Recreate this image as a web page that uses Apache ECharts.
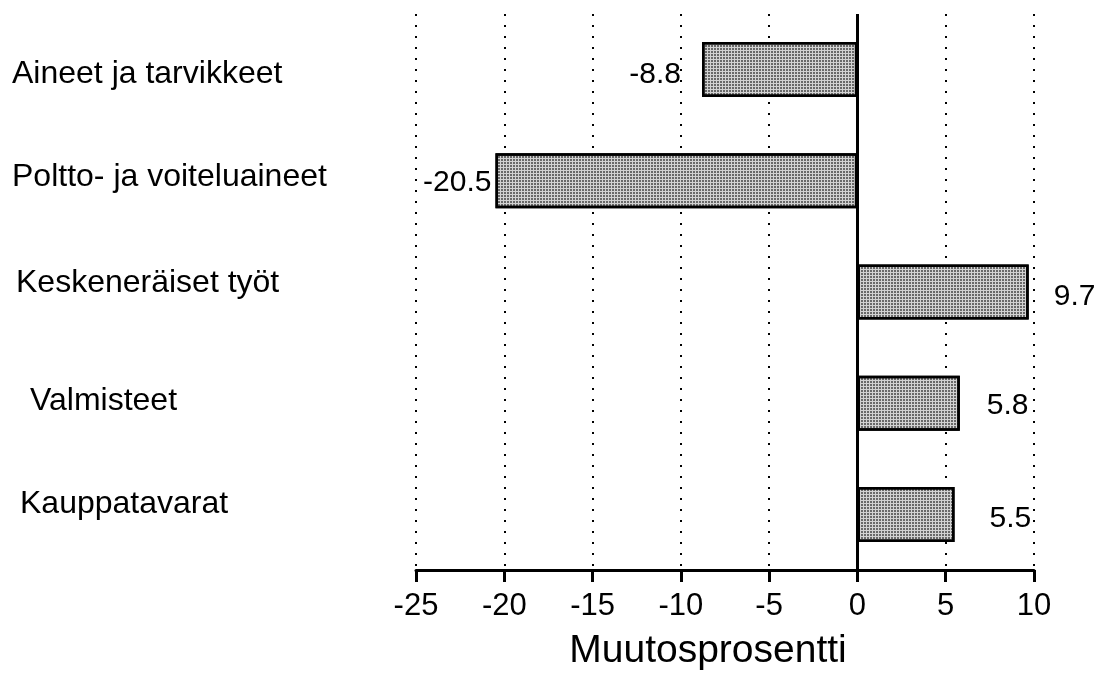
<!DOCTYPE html>
<html>
<head>
<meta charset="utf-8">
<script src="https://cdn.jsdelivr.net/npm/echarts@6/dist/echarts.min.js"></script>
<style>
  html, body { margin: 0; padding: 0; background: #fff; }
  #main { width: 1105px; height: 677px; }
</style>
</head>
<body>
<div id="main"></div>
<script>
// nimikkeet ja muutosprosentit
const categories = ["Aineet ja tarvikkeet", "Poltto- ja voiteluaineet", "Keskeneräiset työt", "Valmisteet", "Kauppatavarat"];
const values = [-8.8, -20.5, 9.7, 5.8, 5.5];
const xTicks = [-25, -20, -15, -10, -5, 0, 5, 10];

// käsin sijoitetut tekstit alkuperäisessä kuvassa
const catShiftX = [0, 0, 4, 18, 8];
const catShiftY = [5, -4, -9, -2, -10];
const valDist = [21, 4, 25, 27, 35];
const valShiftY = [5, 2, 5, 3, 4];

const FONT = "Liberation Sans, Arial, Helvetica, sans-serif";
const LABEL_BOX = 340;

const chart = echarts.init(document.getElementById("main"), null, { renderer: "canvas" });

const rich = {};
categories.forEach((c, i) => {
  const dy = catShiftY[i];
  rich["c" + i] = {
    fontFamily: FONT,
    fontSize: 32,
    color: "#000",
    align: "left",
    width: LABEL_BOX - catShiftX[i],
    padding: [dy > 0 ? 2 * dy : 0, 0, dy < 0 ? -2 * dy : 0, catShiftX[i]],
  };
});

const option = {
  backgroundColor: "#fff",
  animation: false,
  grid: { left: 416, right: 71, top: 14, bottom: 107, containLabel: false, outerBoundsMode: "none" },
  xAxis: {
    type: "value",
    min: xTicks[0],
    max: xTicks[xTicks.length - 1],
    interval: 5,
    name: "Muutosprosentti",
    nameLocation: "middle",
    nameGap: 62,
    nameTextStyle: { fontFamily: FONT, fontSize: 39, color: "#000", padding: [0, 34, 0, 0] },
    axisLine: { show: true, onZero: false, lineStyle: { color: "#000", width: 3 } },
    axisTick: { show: true, length: 12, lineStyle: { color: "#000", width: 3 } },
    axisLabel: { fontFamily: FONT, fontSize: 31, color: "#000", margin: 21 },
    splitLine: { show: true, lineStyle: { color: "#000", width: 2, type: [2, 9] } },
  },
  yAxis: {
    type: "category",
    inverse: true,
    data: categories,
    axisLine: { show: false, onZero: false },
    axisTick: { show: false },
    axisLabel: {
      margin: 416 - 12 - LABEL_BOX,
      formatter: (v, i) => "{c" + i + "|" + v + "}",
      rich: rich,
    },
    splitLine: { show: false },
  },
  series: [
    {
      name: "Muutos",
      type: "bar",
      barWidth: 55,
      data: values.map((v, i) => ({
        value: v,
        label: {
          position: v < 0 ? "left" : "right",
          distance: valDist[i],
          offset: [0, valShiftY[i]],
        },
      })),
      itemStyle: {
        color: "#d2d2d2",
        borderColor: "#000",
        borderWidth: 2.5,
        decal: {
          symbol: "rect",
          symbolSize: 1,
          color: "rgba(0,0,0,0.5)",
          dashArrayX: [2, 1],
          dashArrayY: [2, 1],
          rotation: 0,
        },
      },
      label: {
        show: true,
        fontFamily: FONT,
        fontSize: 30,
        color: "#000",
        formatter: (p) => p.value.toFixed(1),
      },
      markLine: {
        silent: true,
        symbol: "none",
        label: { show: false },
        lineStyle: { color: "#000", width: 3, type: "solid" },
        data: [{ xAxis: 0 }],
      },
    },
  ],
};

chart.setOption(option);
</script>
</body>
</html>
